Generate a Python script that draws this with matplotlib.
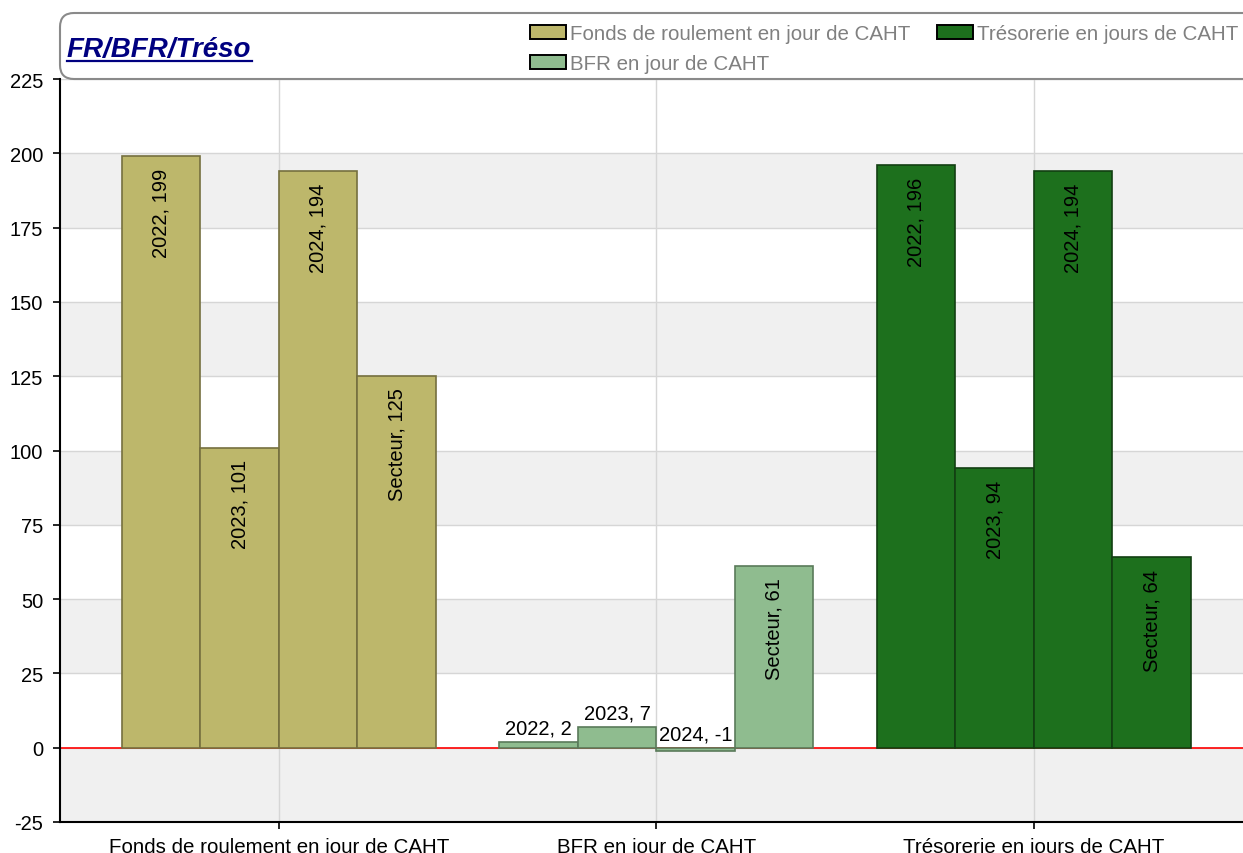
import matplotlib
matplotlib.use("Agg")
import matplotlib.pyplot as plt
from matplotlib.patches import FancyBboxPatch, Patch
from matplotlib.transforms import IdentityTransform
import numpy as np

plt.rcParams['font.family'] = ['Liberation Sans', 'DejaVu Sans']

categories = ["Fonds de roulement en jour de CAHT", "BFR en jour de CAHT", "Trésorerie en jours de CAHT"]
periods = ["2022", "2023", "2024", "Secteur"]
fr_values = [199, 101, 194, 125]
bfr_values = [2, 7, -1, 61]
treso_values = [196, 94, 194, 64]
series = [fr_values, bfr_values, treso_values]
face_colors = ["#bdb76b", "#8fbc8f", "#1d701d"]
edge_colors = ["#75703f", "#5a7a5a", "#123f12"]
y_ticks = [-25, 0, 25, 50, 75, 100, 125, 150, 175, 200, 225]
title = "FR/BFR/Tréso"

W, H = 1243, 854
fig = plt.figure(figsize=(W / 100, H / 100), dpi=100)
ax = fig.add_axes([60 / W, (H - 823) / H, (W - 60) / W, (823 - 80) / H])

ax.set_ylim(-25, 225)
ax.set_xlim(-0.58, 2.554)

# alternating bands
for lo in [-25, 25, 75, 125, 175]:
    ax.axhspan(lo, lo + 25, color="#f0f0f0", zorder=0, lw=0)
for t in y_ticks:
    ax.axhline(t, color="#d6d6d6", lw=1, zorder=0.5)
for i in range(len(categories)):
    ax.axvline(i, color="#d6d6d6", lw=1, zorder=0.5)

ax.axhline(0, color="#ff0000", lw=1.2, zorder=1)

bw = 0.208
offsets = (np.arange(4) - 1.5) * bw
for ci, vals in enumerate(series):
    for pi, v in enumerate(vals):
        x = ci + offsets[pi]
        ax.bar(x, v, width=bw, color=face_colors[ci], edgecolor=edge_colors[ci], lw=1.2, zorder=2)
        label = f"{periods[pi]}, {v}"
        if abs(v) >= 20:
            ax.annotate(label, (x, v), xytext=(0, -8), textcoords="offset points",
                        rotation=90, ha="center", va="top", fontsize=14.5, color="black", zorder=3)
        else:
            ax.annotate(label, (x, max(v, 0)), xytext=(0, 3), textcoords="offset points",
                        ha="center", va="bottom", fontsize=14.5, color="black", zorder=3)

ax.set_yticks(y_ticks)
ax.set_yticklabels([str(t) for t in y_ticks], fontsize=14.5)
ax.set_xticks(range(len(categories)))
ax.set_xticklabels(categories, fontsize=14.8)
ax.tick_params(axis="both", direction="out", length=5, width=1.2, color="black")
ax.tick_params(axis="y", pad=7)
ax.tick_params(axis="x", pad=6)
for s in ["top", "right"]:
    ax.spines[s].set_visible(False)
for s in ["left", "bottom"]:
    ax.spines[s].set_color("black")
    ax.spines[s].set_linewidth(1.5)

# header box with rounded corner (pixel coordinates)
hdr = FancyBboxPatch((60, H - 80), W, 66,
                     boxstyle="round,pad=0,rounding_size=14",
                     transform=IdentityTransform(), facecolor="white", edgecolor="#8a8a8a",
                     lw=1.5, zorder=0)
fig.patches.append(hdr)

tt = fig.text(67 / W, (H - 50) / H, title, fontsize=20, fontweight="bold", fontstyle="italic",
              color="#000080", va="center", ha="left")
fig.canvas.draw()
bb = tt.get_window_extent()
fig.add_artist(plt.Line2D([bb.x0 / W, bb.x1 / W], [(H - 62) / H, (H - 62) / H],
                          transform=fig.transFigure, color="#000080", lw=1.6))

handles = [Patch(facecolor=face_colors[i], edgecolor="black", lw=1.4, label=categories[i])
           for i in range(3)]
leg = fig.legend(handles=handles, loc="upper left", bbox_to_anchor=(530 / W, (H - 25) / H),
                 ncol=2, frameon=False, fontsize=14.8, handlelength=1.75, handleheight=0.7,
                 handletextpad=0.2, columnspacing=1.3, labelspacing=0.55, borderpad=0,
                 borderaxespad=0)
for t in leg.get_texts():
    t.set_color("#808080")

fig.savefig("out.png", dpi=100)
